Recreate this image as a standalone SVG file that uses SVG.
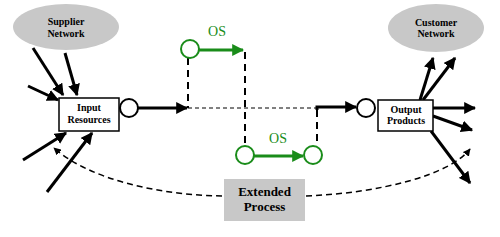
<svg xmlns="http://www.w3.org/2000/svg" width="500" height="237" viewBox="0 0 500 237">
<defs>
<marker id="ab" viewBox="0 0 10 10" refX="9" refY="5" markerWidth="4" markerHeight="4" orient="auto" markerUnits="strokeWidth"><path d="M0,0 L10,5 L0,10 z" fill="#000"/></marker>
<marker id="abs" viewBox="0 0 10 10" refX="9" refY="5" markerWidth="5" markerHeight="5" orient="auto" markerUnits="strokeWidth"><path d="M0,0 L10,5 L0,10 z" fill="#000"/></marker>
<marker id="ag" viewBox="0 0 10 10" refX="9" refY="5" markerWidth="4" markerHeight="4" orient="auto" markerUnits="strokeWidth"><path d="M0,0 L10,5 L0,10 z" fill="#1a8c1a"/></marker>
</defs>
<style>
text{font-family:"Liberation Serif","Times New Roman","DejaVu Serif",serif}
.t{font-weight:bold;fill:#000;text-anchor:middle}
.net{fill:#c8c8c8;stroke:none}
.box{fill:#fff;stroke:#000;stroke-width:1.5}
.ar{stroke:#000;stroke-width:3;fill:none;marker-end:url(#ab)}
.gr{stroke:#1a8c1a;stroke-width:3;fill:none;marker-end:url(#ag)}
.gc{fill:#fff;stroke:#1a8c1a;stroke-width:2}
.bc{fill:#fff;stroke:#000;stroke-width:2}
.dv{stroke:#000;stroke-width:2;stroke-dasharray:7,5;fill:none}
.dh{stroke:#000;stroke-width:1;stroke-dasharray:4,3;fill:none}
.dc{stroke:#000;stroke-width:1.5;stroke-dasharray:6,4;fill:none;marker-end:url(#abs)}
.os{fill:#1a8c1a;font-size:14px;text-anchor:middle}
</style>
<g id="connectors">
<line class="ar" x1="33" y1="48" x2="63" y2="95"/>
<line class="ar" x1="65" y1="53" x2="77" y2="95"/>
<line class="ar" x1="28" y1="86" x2="58" y2="100"/>
<line class="ar" x1="23" y1="160" x2="66" y2="133"/>
<line class="ar" x1="47" y1="192" x2="92" y2="133"/>
<line class="ar" x1="138" y1="108" x2="187" y2="108"/>
<line class="dh" x1="188" y1="108" x2="317" y2="108"/>
<line class="dv" x1="188" y1="58" x2="188" y2="108"/>
<line class="dv" x1="245" y1="52" x2="245" y2="146"/>
<line class="dv" x1="317" y1="110" x2="317" y2="146"/>
<polyline class="ar" points="317,110 317,107 356,107"/>
<line class="gr" x1="199" y1="50" x2="243" y2="50"/>
<line class="gr" x1="254" y1="156" x2="303" y2="156"/>
<line class="ar" x1="420" y1="100" x2="433" y2="58"/>
<line class="ar" x1="423" y1="100" x2="455" y2="58"/>
<line class="ar" x1="433" y1="108" x2="475" y2="108"/>
<line class="ar" x1="433" y1="116" x2="472" y2="130"/>
<line class="ar" x1="431" y1="131" x2="470" y2="183"/>
<path class="dc" d="M222,196 C160,195 90,180 54,148"/>
<path class="dc" d="M306,196 C380,193 450,175 470,149"/>
<text class="os" x="217" y="36">OS</text>
<text class="os" x="278" y="143">OS</text>
</g>
<g id="supplier"><ellipse class="net" cx="66" cy="27" rx="53" ry="23"/><text class="t" x="66" y="25" font-size="10">Supplier</text><text class="t" x="66" y="37" font-size="10">Network</text></g>
<g id="customer"><ellipse class="net" cx="436" cy="28" rx="48" ry="24"/><text class="t" x="436" y="26" font-size="10">Customer</text><text class="t" x="436" y="37" font-size="10">Network</text></g>
<g id="input"><rect class="box" x="59" y="98" width="60" height="33"/><text class="t" x="89" y="111" font-size="10">Input</text><text class="t" x="89" y="123" font-size="10">Resources</text></g>
<g id="input-circle"><circle class="bc" cx="129" cy="108" r="9"/></g>
<g id="output-circle"><circle class="bc" cx="366" cy="108" r="9"/></g>
<g id="output"><rect class="box" x="378" y="100" width="55" height="31"/><text class="t" x="406" y="113" font-size="10">Output</text><text class="t" x="406" y="124" font-size="10">Products</text></g>
<g id="os1-start"><circle class="gc" cx="190" cy="49" r="9"/></g>
<g id="os2-start"><circle class="gc" cx="245" cy="155" r="9"/></g>
<g id="os2-end"><circle class="gc" cx="313" cy="155" r="9"/></g>
<g id="extended"><rect x="224" y="179" width="81" height="42" fill="#c8c8c8"/><text class="t" x="264.5" y="196" font-size="13">Extended</text><text class="t" x="264.5" y="211" font-size="13">Process</text></g>
</svg>
